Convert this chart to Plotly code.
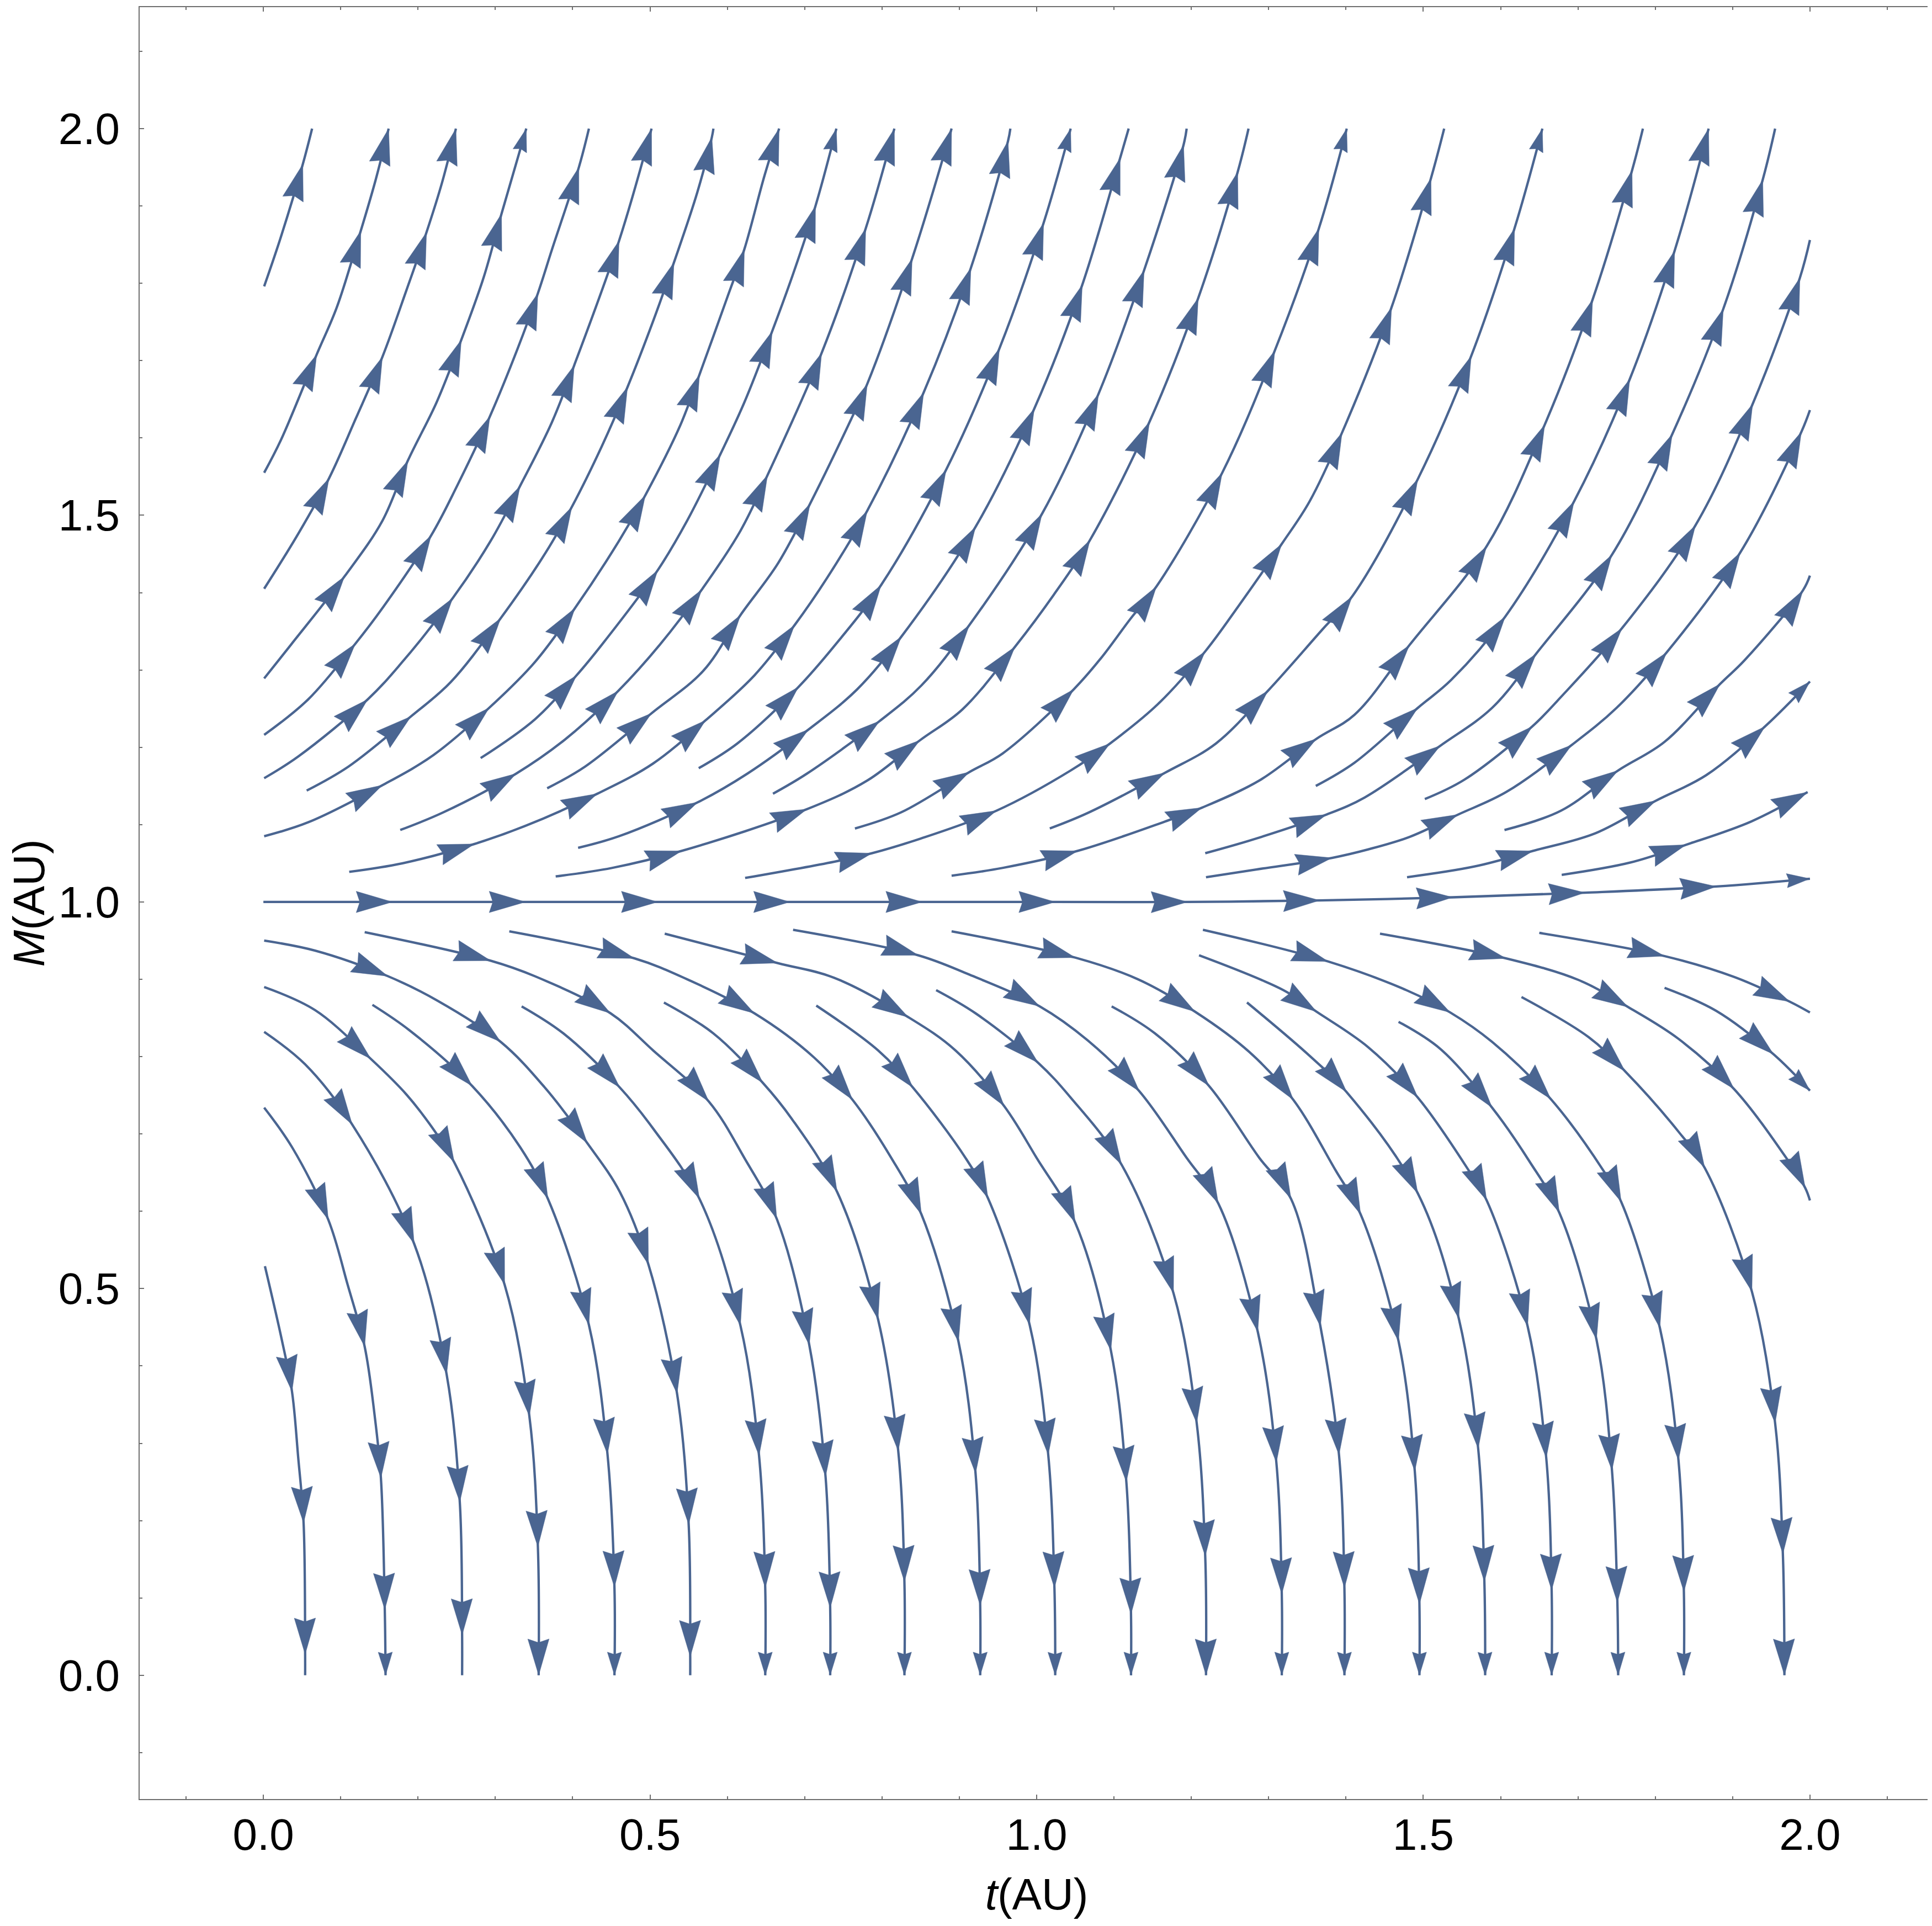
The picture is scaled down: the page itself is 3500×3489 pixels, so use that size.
import numpy as np
import plotly.graph_objects as go

# Streamlines, as (t, M, head) points.
# head: 0 = plain point, 1 = arrowhead tip, 2 = short arrowhead tip

# lines that bend upwards and leave through the top or right edge
upper_lines = [
    [(0.001, 1.796, 0), (0.023, 1.861, 0), (0.051, 1.954, 1), (0.063, 2.0, 0)],
    [(0.001, 1.555, 0), (0.023, 1.598, 0), (0.069, 1.708, 1), (0.095, 1.769, 0), (0.126, 1.868, 1),
     (0.145, 1.933, 0), (0.162, 2.0, 1)],
    [(0.001, 1.405, 0), (0.045, 1.476, 0), (0.085, 1.548, 1), (0.119, 1.624, 0), (0.154, 1.705, 1),
     (0.185, 1.791, 0), (0.211, 1.866, 1), (0.231, 1.930, 0), (0.249, 2.0, 1)],
    [(0.001, 1.289, 0), (0.036, 1.333, 0), (0.105, 1.421, 1), (0.154, 1.493, 0), (0.187, 1.571, 1),
     (0.224, 1.646, 0), (0.256, 1.727, 1), (0.285, 1.808, 0), (0.308, 1.890, 1), (0.340, 2.0, 2)],
    [(0.001, 1.216, 0), (0.058, 1.262, 0), (0.119, 1.334, 1), (0.154, 1.380, 0), (0.217, 1.474, 1),
     (0.250, 1.537, 0), (0.293, 1.628, 1), (0.329, 1.716, 0), (0.355, 1.787, 1), (0.373, 1.843, 0),
     (0.408, 1.950, 1), (0.421, 2.0, 0)],
    [(0.001, 1.160, 0), (0.045, 1.188, 0), (0.135, 1.262, 1), (0.176, 1.306, 0), (0.245, 1.393, 1),
     (0.294, 1.467, 0), (0.332, 1.538, 1), (0.373, 1.620, 0), (0.402, 1.694, 1), (0.460, 1.855, 1),
     (0.502, 2.0, 1)],
    [(0.056, 1.144, 0), (0.110, 1.175, 0), (0.191, 1.240, 1), (0.242, 1.284, 0), (0.307, 1.367, 1),
     (0.364, 1.450, 0), (0.399, 1.511, 1), (0.438, 1.590, 0), (0.471, 1.666, 1), (0.504, 1.751, 0),
     (0.531, 1.827, 1), (0.561, 1.917, 0), (0.580, 1.989, 1), (0.582, 2.0, 0)],
    [(0.001, 1.085, 0), (0.058, 1.103, 0), (0.154, 1.151, 1), (0.220, 1.190, 0), (0.292, 1.251, 1),
     (0.351, 1.310, 0), (0.403, 1.380, 1), (0.460, 1.467, 0), (0.494, 1.526, 1), (0.539, 1.616, 0),
     (0.564, 1.682, 1), (0.600, 1.782, 0), (0.622, 1.844, 1), (0.648, 1.939, 0), (0.667, 2.0, 1)],
    [(0.281, 1.186, 0), (0.351, 1.236, 0), (0.405, 1.293, 1), (0.438, 1.333, 0), (0.510, 1.429, 1),
     (0.548, 1.493, 0), (0.591, 1.579, 1), (0.622, 1.646, 0), (0.658, 1.738, 1), (0.685, 1.812, 0),
     (0.714, 1.900, 1), (0.741, 2.0, 2)],
    [(0.177, 1.093, 0), (0.233, 1.116, 0), (0.327, 1.166, 1), (0.390, 1.210, 0), (0.459, 1.273, 1),
     (0.513, 1.333, 0), (0.567, 1.404, 1), (0.617, 1.480, 0), (0.652, 1.552, 1), (0.722, 1.710, 1),
     (0.779, 1.871, 1), (0.816, 2.0, 1)],
    [(0.367, 1.147, 0), (0.416, 1.175, 0), (0.502, 1.244, 1), (0.569, 1.299, 0), (0.617, 1.371, 1),
     (0.665, 1.437, 0), (0.707, 1.515, 1), (0.760, 1.624, 0), (0.781, 1.670, 1), (0.839, 1.832, 1),
     (0.890, 2.0, 1)],
    [(0.111, 1.039, 0), (0.180, 1.050, 0), (0.273, 1.075, 1), (0.338, 1.098, 0), (0.432, 1.140, 1),
     (0.504, 1.179, 0), (0.572, 1.235, 1), (0.635, 1.293, 0), (0.687, 1.358, 1), (0.729, 1.419, 0),
     (0.781, 1.506, 1), (0.854, 1.659, 1), (0.915, 1.820, 1), (0.963, 1.984, 1), (0.966, 2.0, 0)],
    [(0.563, 1.173, 0), (0.613, 1.205, 0), (0.692, 1.278, 1), (0.740, 1.333, 0), (0.799, 1.410, 1),
     (0.883, 1.559, 1), (0.952, 1.716, 1), (1.009, 1.878, 1), (1.044, 2.0, 2)],
    [(0.407, 1.070, 0), (0.460, 1.085, 0), (0.562, 1.129, 1), (0.626, 1.166, 0), (0.705, 1.223, 1),
     (0.768, 1.275, 0), (0.825, 1.343, 1), (0.921, 1.485, 1), (0.997, 1.638, 1), (1.059, 1.798, 1),
     (1.108, 1.962, 1), (1.119, 2.0, 0)],
    [(0.659, 1.140, 0), (0.703, 1.166, 0), (0.797, 1.234, 1), (0.851, 1.280, 0), (0.913, 1.358, 1),
     (1.007, 1.502, 1), (1.080, 1.657, 1), (1.139, 1.817, 1), (1.190, 1.979, 1), (1.194, 2.0, 0)],
    [(0.378, 1.033, 0), (0.451, 1.044, 0), (0.541, 1.066, 1), (0.703, 1.120, 1), (0.781, 1.157, 0),
     (0.849, 1.209, 1), (0.904, 1.249, 0), (0.972, 1.330, 1), (1.022, 1.397, 0), (1.069, 1.468, 1),
     (1.146, 1.621, 1), (1.209, 1.781, 1), (1.260, 1.944, 1), (1.274, 2.0, 0)],
    [(0.765, 1.095, 0), (0.825, 1.116, 0), (0.913, 1.168, 1), (0.956, 1.192, 0), (1.048, 1.275, 1),
     (1.083, 1.315, 0), (1.122, 1.367, 0), (1.155, 1.408, 1), (1.240, 1.555, 1), (1.308, 1.713, 1),
     (1.365, 1.871, 1), (1.401, 2.0, 2)],
    [(0.623, 1.031, 0), (0.738, 1.052, 0), (0.787, 1.063, 1), (0.847, 1.081, 0), (0.948, 1.118, 1),
     (1.044, 1.170, 0), (1.095, 1.205, 1), (1.157, 1.256, 0), (1.218, 1.324, 1), (1.262, 1.384, 0),
     (1.317, 1.463, 1), (1.353, 1.518, 0), (1.395, 1.607, 1), (1.459, 1.769, 1), (1.510, 1.936, 1),
     (1.527, 2.0, 0)],
    [(1.017, 1.095, 0), (1.066, 1.115, 0), (1.166, 1.167, 1), (1.232, 1.205, 0), (1.299, 1.273, 1),
     (1.371, 1.354, 0), (1.408, 1.395, 1), (1.493, 1.547, 1), (1.562, 1.706, 1), (1.618, 1.871, 1),
     (1.654, 2.0, 2)],
    [(0.890, 1.034, 0), (0.956, 1.044, 0), (1.053, 1.066, 1), (1.166, 1.104, 0), (1.214, 1.122, 1),
     (1.288, 1.157, 0), (1.362, 1.211, 1), (1.411, 1.242, 0), (1.482, 1.332, 1), (1.582, 1.460, 1),
     (1.657, 1.617, 1), (1.719, 1.779, 1), (1.770, 1.946, 1), (1.784, 2.0, 0)],
    [(1.361, 1.150, 0), (1.411, 1.180, 0), (1.493, 1.251, 1), (1.536, 1.287, 0), (1.606, 1.369, 1),
     (1.695, 1.518, 1), (1.767, 1.676, 1), (1.825, 1.842, 1), (1.869, 2.0, 1)],
    [(1.218, 1.063, 0), (1.284, 1.082, 0), (1.375, 1.113, 1), (1.424, 1.135, 0), (1.522, 1.202, 1),
     (1.589, 1.251, 0), (1.646, 1.321, 1), (1.744, 1.449, 1), (1.822, 1.605, 1), (1.888, 1.767, 1),
     (1.939, 1.934, 1), (1.955, 2.0, 0)],
    [(1.502, 1.133, 0), (1.553, 1.158, 0), (1.641, 1.227, 1), (1.678, 1.265, 0), (1.757, 1.354, 1),
     (1.852, 1.487, 1), (1.926, 1.644, 1), (1.987, 1.807, 1), (2.0, 1.856, 0)],
    [(1.219, 1.032, 0), (1.284, 1.042, 0), (1.382, 1.057, 1), (1.429, 1.068, 0), (1.482, 1.084, 0),
     (1.545, 1.113, 1), (1.607, 1.142, 0), (1.692, 1.203, 1), (1.750, 1.251, 0), (1.815, 1.323, 1),
     (1.910, 1.452, 1), (1.989, 1.608, 1), (2.0, 1.636, 0)],
    [(1.605, 1.093, 0), (1.678, 1.118, 0), (1.752, 1.170, 1), (1.812, 1.207, 0), (1.884, 1.282, 1),
     (1.915, 1.312, 0), (1.991, 1.403, 1), (2.0, 1.422, 0)],
    [(1.479, 1.032, 0), (1.567, 1.046, 0), (1.642, 1.066, 1), (1.723, 1.089, 0), (1.801, 1.131, 1),
     (1.866, 1.164, 0), (1.942, 1.227, 1), (2.0, 1.285, 2)],
    [(1.679, 1.035, 0), (1.768, 1.051, 0), (1.840, 1.074, 1), (1.924, 1.104, 0), (1.997, 1.142, 1)],
]

# the nearly flat line at M = 1
center_line = [(0.0, 1.0, 0), (0.167, 1.0, 1), (0.339, 1.0, 1), (0.510, 1.0, 1), (0.681, 1.0, 1),
               (0.852, 1.0, 1), (1.024, 1.0, 1), (1.195, 1.0, 1), (1.366, 1.002, 1), (1.538, 1.006, 1),
               (1.709, 1.012, 1), (1.879, 1.020, 1), (2.0, 1.030, 2)]

# lines that bend downwards to M = 0 (last three leave through the right edge)
lower_lines = [
    [(0.002, 0.529, 0), (0.024, 0.433, 0), (0.037, 0.367, 1), (0.045, 0.282, 0), (0.052, 0.197, 1),
     (0.054, 0.027, 1), (0.054, 0.0, 0)],
    [(0.001, 0.734, 0), (0.037, 0.683, 0), (0.084, 0.589, 1), (0.109, 0.505, 0), (0.131, 0.425, 1),
     (0.144, 0.335, 0), (0.152, 0.255, 1), (0.157, 0.085, 1), (0.158, 0.0, 2)],
    [(0.001, 0.832, 0), (0.054, 0.790, 0), (0.115, 0.712, 1), (0.195, 0.558, 1),
     (0.237, 0.389, 1), (0.254, 0.224, 1), (0.257, 0.052, 1), (0.257, 0.0, 0)],
    [(0.001, 0.890, 0), (0.067, 0.860, 0), (0.139, 0.797, 1), (0.185, 0.751, 0), (0.222, 0.703, 0),
     (0.247, 0.663, 1), (0.312, 0.505, 1), (0.344, 0.335, 1), (0.355, 0.166, 1), (0.356, 0.0, 1)],
    [(0.141, 0.867, 0), (0.189, 0.834, 0), (0.270, 0.762, 1), (0.332, 0.683, 0), (0.368, 0.616, 1),
     (0.421, 0.453, 1), (0.445, 0.286, 1), (0.454, 0.114, 1), (0.454, 0.0, 2)],
    [(0.001, 0.950, 0), (0.067, 0.937, 0), (0.161, 0.904, 1), (0.224, 0.873, 0), (0.307, 0.819, 1),
     (0.364, 0.760, 0), (0.419, 0.688, 1), (0.461, 0.625, 0), (0.498, 0.531, 1), (0.535, 0.364, 1),
     (0.550, 0.195, 1), (0.552, 0.024, 1), (0.552, 0.0, 0)],
    [(0.334, 0.865, 0), (0.388, 0.830, 0), (0.461, 0.760, 1), (0.504, 0.707, 0),
     (0.564, 0.616, 1), (0.617, 0.452, 1), (0.641, 0.284, 1), (0.649, 0.113, 1), (0.649, 0.0, 2)],
    [(0.131, 0.961, 0), (0.294, 0.924, 1), (0.351, 0.904, 0), (0.449, 0.856, 1), (0.504, 0.808, 0),
     (0.576, 0.742, 1), (0.622, 0.669, 0), (0.664, 0.590, 1), (0.706, 0.427, 1), (0.727, 0.257, 1),
     (0.733, 0.087, 1), (0.733, 0.0, 2)],
    [(0.518, 0.870, 0), (0.582, 0.830, 0), (0.646, 0.766, 1), (0.683, 0.720, 0),
     (0.742, 0.625, 1), (0.795, 0.460, 1), (0.821, 0.290, 1), (0.829, 0.121, 1), (0.829, 0.0, 2)],
    [(0.318, 0.962, 0), (0.480, 0.927, 1), (0.548, 0.900, 0), (0.635, 0.856, 1), (0.712, 0.799, 0),
     (0.762, 0.744, 1), (0.812, 0.669, 0), (0.851, 0.596, 1), (0.899, 0.431, 1), (0.921, 0.261, 1),
     (0.927, 0.090, 1), (0.927, 0.0, 2)],
    [(0.715, 0.866, 0), (0.795, 0.808, 0), (0.840, 0.760, 1), (0.908, 0.669, 0), (0.937, 0.617, 1),
     (0.991, 0.453, 1), (1.015, 0.285, 1), (1.023, 0.113, 1), (1.024, 0.0, 2)],
    [(0.519, 0.959, 0), (0.665, 0.921, 1), (0.738, 0.902, 0), (0.834, 0.851, 1), (0.895, 0.808, 0),
     (0.958, 0.736, 1), (1.000, 0.669, 0), (1.050, 0.585, 1), (1.096, 0.420, 1), (1.116, 0.250, 1),
     (1.122, 0.079, 1), (1.122, 0.0, 2)],
    [(0.870, 0.886, 0), (0.921, 0.856, 0), (1.002, 0.792, 1), (1.044, 0.747, 0), (1.110, 0.660, 1),
     (1.177, 0.494, 1), (1.207, 0.326, 1), (1.218, 0.154, 1), (1.219, 0.0, 1)],
    [(0.685, 0.964, 0), (0.847, 0.931, 1), (0.913, 0.906, 0), (1.004, 0.865, 1), (1.066, 0.821, 0),
     (1.133, 0.755, 1), (1.194, 0.669, 0), (1.235, 0.610, 1), (1.286, 0.444, 1), (1.310, 0.275, 1),
     (1.317, 0.105, 1), (1.317, 0.0, 2)],
    [(1.097, 0.865, 0), (1.153, 0.830, 0), (1.223, 0.762, 1), (1.288, 0.669, 0), (1.329, 0.616, 1),
     (1.367, 0.451, 1), (1.391, 0.285, 1), (1.398, 0.113, 1), (1.398, 0.0, 2)],
    [(0.890, 0.962, 0), (1.050, 0.928, 1), (1.131, 0.900, 0), (1.205, 0.858, 1), (1.275, 0.806, 0),
     (1.332, 0.744, 1), (1.386, 0.654, 0), (1.419, 0.596, 1), (1.468, 0.432, 1), (1.489, 0.264, 1),
     (1.495, 0.092, 1), (1.495, 0.0, 2)],
    [(1.272, 0.870, 0), (1.353, 0.801, 0), (1.401, 0.754, 1), (1.493, 0.623, 1),
     (1.546, 0.461, 1), (1.571, 0.293, 1), (1.579, 0.121, 1), (1.580, 0.0, 2)],
    [(1.210, 0.931, 0), (1.319, 0.886, 0), (1.362, 0.858, 1), (1.429, 0.812, 0), (1.493, 0.747, 1),
     (1.558, 0.654, 0), (1.582, 0.614, 1), (1.635, 0.451, 1), (1.659, 0.281, 1), (1.666, 0.110, 1),
     (1.666, 0.0, 2)],
    [(1.468, 0.845, 0), (1.522, 0.810, 0), (1.589, 0.734, 1), (1.637, 0.665, 0), (1.676, 0.598, 1),
     (1.724, 0.434, 1), (1.744, 0.265, 1), (1.751, 0.094, 1), (1.752, 0.0, 2)],
    [(1.215, 0.964, 0), (1.377, 0.923, 1), (1.478, 0.886, 0), (1.535, 0.857, 1), (1.589, 0.819, 0),
     (1.665, 0.745, 1), (1.732, 0.654, 0), (1.756, 0.612, 1), (1.806, 0.449, 1), (1.830, 0.278, 1),
     (1.837, 0.108, 1), (1.837, 0.0, 2)],
    [(1.627, 0.877, 0), (1.714, 0.825, 0), (1.761, 0.781, 1), (1.830, 0.703, 0), (1.864, 0.656, 1),
     (1.925, 0.496, 1), (1.955, 0.326, 1), (1.965, 0.157, 1), (1.967, 0.0, 1)],
    [(1.444, 0.959, 0), (1.607, 0.927, 1), (1.701, 0.899, 0), (1.765, 0.864, 1), (1.830, 0.823, 0),
     (1.902, 0.758, 1), (1.968, 0.671, 0), (1.994, 0.630, 1), (2.0, 0.614, 0)],
    [(1.650, 0.960, 0), (1.812, 0.930, 1), (1.902, 0.903, 0), (1.974, 0.871, 1), (2.0, 0.857, 0)],
    [(1.812, 0.889, 0), (1.879, 0.859, 0), (1.953, 0.803, 1), (2.0, 0.756, 2)],
]

x_ticks = [0.0, 0.5, 1.0, 1.5, 2.0]
y_ticks = [0.0, 0.5, 1.0, 1.5, 2.0]

stream_color = '#4a6591'
head_len = {1: 0.047, 2: 0.030}     # arrowhead length in data units (axes share one scale)
head_half = {1: 0.0138, 2: 0.0092}


def arrow_head(pts, i):
    # tangent from the neighbouring points, then a notched triangle with its tip on the point
    p = np.array(pts[i][:2])
    prev = np.array(pts[i - 1][:2])
    d = (p - prev) / np.linalg.norm(p - prev)
    if i < len(pts) - 1:
        nxt = np.array(pts[i + 1][:2])
        d = d + (nxt - p) / np.linalg.norm(nxt - p)
        d = d / np.linalg.norm(d)
    n = np.array([-d[1], d[0]])
    kind = pts[i][2]
    L, W = head_len[kind], head_half[kind]
    back = p - L * d
    notch = back + 0.1 * L * d
    poly = [p, back + W * n, notch, back - W * n, p]
    return [q[0] for q in poly], [q[1] for q in poly]


fig = go.Figure()

hx, hy = [], []
for pts in upper_lines + [center_line] + lower_lines:
    fig.add_trace(go.Scatter(
        x=[q[0] for q in pts], y=[q[1] for q in pts],
        mode='lines', line=dict(color=stream_color, width=4.3, shape='spline', smoothing=1.0),
        hoverinfo='skip', showlegend=False))
    for i, q in enumerate(pts):
        if q[2] and i > 0:
            ax, ay = arrow_head(pts, i)
            hx += ax + [None]
            hy += ay + [None]

fig.add_trace(go.Scatter(x=hx, y=hy, mode='lines', fill='toself', fillcolor=stream_color,
                         line=dict(width=0.5, color=stream_color), hoverinfo='skip', showlegend=False))

label_font = dict(family='Liberation Sans, Arial, sans-serif', size=80, color='black')

axis_style = dict(
    showgrid=False, zeroline=False,
    showline=True, linecolor='#6e6e6e', linewidth=2, mirror='allticks',
    ticks='inside', ticklen=8, tickwidth=2, tickcolor='#6e6e6e',
    tickformat='.1f', tickfont=label_font,
    minor=dict(ticks='inside', dtick=0.1, ticklen=5, tickwidth=1.5, tickcolor='#6e6e6e'),
)

fig.update_xaxes(axis_style, range=[-0.160, 2.160], tickvals=x_ticks, ticklabelstandoff=-6,
                 title=dict(text='<i>t</i>(AU)', standoff=36, font=label_font))
fig.update_yaxes(axis_style, range=[-0.160, 2.157], tickvals=y_ticks, ticklabelstandoff=18,
                 title=dict(text='<i>M</i>(AU)', standoff=22, font=label_font))

fig.update_layout(
    width=3500, height=3489,
    margin=dict(l=245, r=5, t=5, b=238, autoexpand=False),
    plot_bgcolor='white', paper_bgcolor='white',
    showlegend=False,
)

fig.write_html("out.html", config={'displayModeBar': False})
